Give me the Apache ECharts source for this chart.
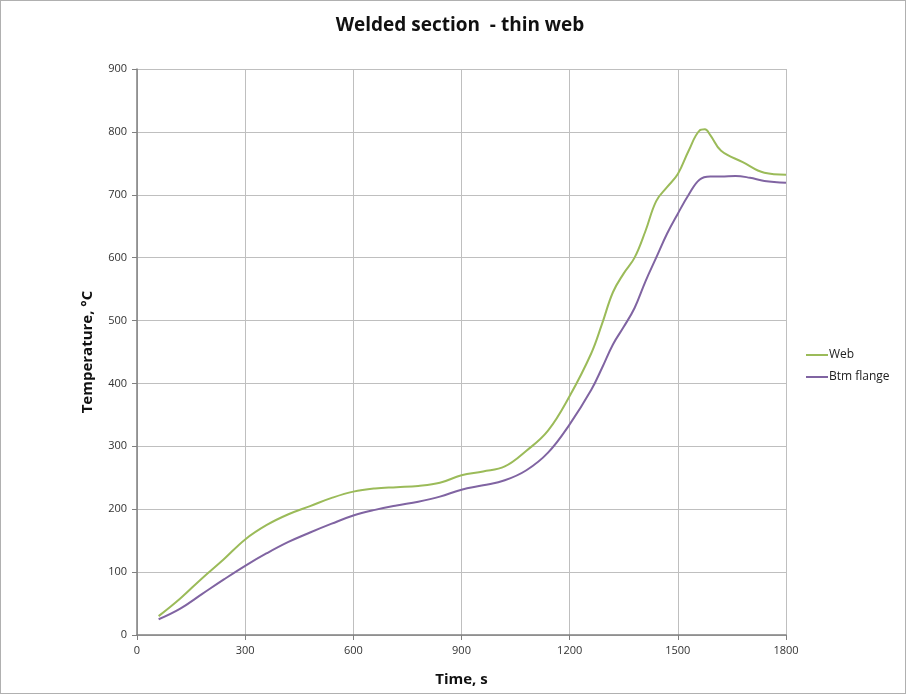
<!DOCTYPE html>
<html><head><meta charset="utf-8">
<script src="https://cdn.jsdelivr.net/npm/echarts@6/dist/echarts.min.js"></script>
<style>html,body{margin:0;padding:0;background:#fff}#c{width:906px;height:694px;box-sizing:border-box;border:1px solid #b0b0b0}</style>
</head><body><div id="c"></div>
<script>
const timesWeb = [60,120,180,240,300,360,420,480,540,600,660,720,780,840,900,960,1020,1080,1140,1200,1260,1290,1320,1350,1380,1410,1440,1470,1500,1530,1560,1575,1590,1620,1680,1740,1800];
const web      = [30,58,90,120,152,175,192,205,218,228,233,235,237,242,254,260,268,293,325,380,448,495,545,575,600,642,690,712,733,770,802,804,795,770,752,735,732];
const timesBtm = [60,120,180,240,300,360,420,480,540,600,660,720,780,840,900,960,1020,1080,1140,1200,1260,1290,1320,1350,1380,1410,1440,1470,1500,1530,1560,1590,1620,1660,1700,1740,1800];
const btm      = [25,42,65,88,110,130,148,163,177,190,199,206,212,220,231,238,246,262,290,335,390,425,462,490,520,562,600,638,670,700,724,729,729,730,727,722,719];
const seriesNames = ['Web','Btm flange'];
const font = '"Open Sans", "Liberation Sans", sans-serif';
const chart = echarts.init(document.getElementById('c'));
chart.setOption({
  animation:false,
  title:{text:'Welded section  - thin web',left:454,textAlign:'center',top:10,textStyle:{fontFamily:font,fontSize:19,fontWeight:'bold',color:'#111'}},
  legend:{orient:'vertical',left:800,top:343,itemGap:10,icon:'rect',itemWidth:22,itemHeight:2,
    textStyle:{fontFamily:font,fontSize:12,color:'#222',padding:[0,0,0,-4]},data:seriesNames},
  grid:{left:136,right:119,top:68,bottom:58},
  xAxis:{type:'value',min:0,max:1800,interval:300,name:'Time, s',nameLocation:'middle',nameGap:37,
    nameTextStyle:{fontFamily:font,fontSize:15,fontWeight:'bold',color:'#111'},
    axisLine:{lineStyle:{color:'#808080',width:1.5}},axisTick:{show:true,length:5,lineStyle:{color:'#808080'}},
    axisLabel:{fontFamily:font,fontSize:11,color:'#333',margin:10,formatter:v=>String(v)},
    splitLine:{show:true,lineStyle:{color:'#bfbfbf',width:1}}},
  yAxis:{type:'value',min:0,max:900,interval:100,name:'Temperature, °C',nameLocation:'middle',nameGap:42,
    nameTextStyle:{fontFamily:font,fontSize:15,fontWeight:'bold',color:'#111'},
    axisLine:{show:true,lineStyle:{color:'#808080',width:1.5}},axisTick:{show:true,length:5,lineStyle:{color:'#808080'}},
    axisLabel:{fontFamily:font,fontSize:11,color:'#333',margin:10,formatter:v=>String(v)},
    splitLine:{show:true,lineStyle:{color:'#bfbfbf',width:1}}},
  series:[
    {name:seriesNames[0],type:'line',smooth:0.4,symbol:'none',lineStyle:{color:'#9bbb59',width:2},itemStyle:{color:'#9bbb59'},
      data:timesWeb.map((t,i)=>[t,web[i]])},
    {name:seriesNames[1],type:'line',smooth:0.4,symbol:'none',lineStyle:{color:'#8064a2',width:2},itemStyle:{color:'#8064a2'},
      data:timesBtm.map((t,i)=>[t,btm[i]])}
  ]
});
</script></body></html>
